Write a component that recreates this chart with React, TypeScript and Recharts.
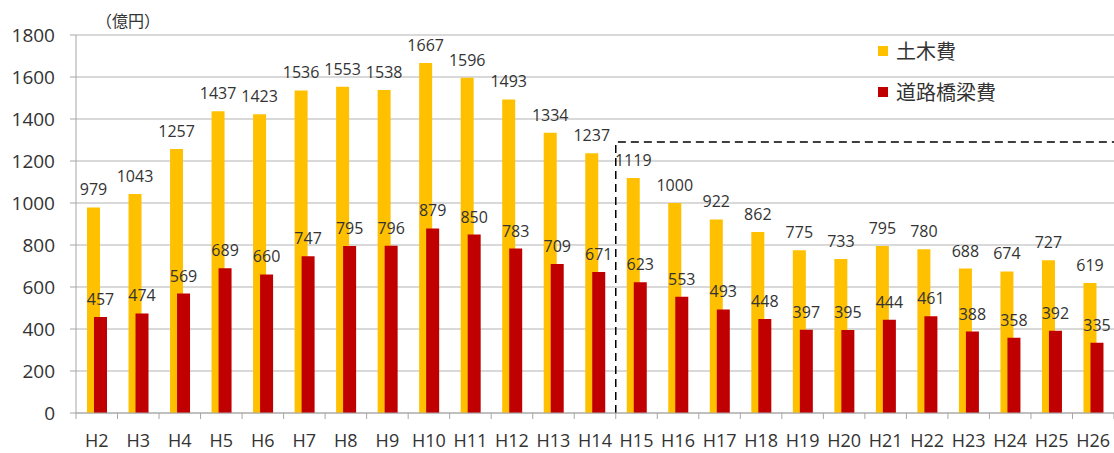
import React from 'react';
import { BarChart, Bar, XAxis, YAxis, CartesianGrid, LabelList, ReferenceArea } from 'recharts';

const categories = ['H2','H3','H4','H5','H6','H7','H8','H9','H10','H11','H12','H13','H14','H15','H16','H17','H18','H19','H20','H21','H22','H23','H24','H25','H26'];
const civilCost = [979,1043,1257,1437,1423,1536,1553,1538,1667,1596,1493,1334,1237,1119,1000,922,862,775,733,795,780,688,674,727,619];
const roadBridgeCost = [457,474,569,689,660,747,795,796,879,850,783,709,671,623,553,493,448,397,395,444,461,388,358,392,335];
const yTicks = [0,200,400,600,800,1000,1200,1400,1600,1800];
const seriesNames = ['土木費', '道路橋梁費'];
const seriesColors = ['#FFC000', '#C00000'];
const boxStart = 'H15';
const boxEnd = 'H26';
const boxTop = 1290;

const data = categories.map((c, i) => ({ name: c, civil: civilCost[i], road: roadBridgeCost[i] }));

const W = 1114;
const H = 453;
const LEFT = 76;
const BAND = (W - LEFT) / categories.length;

const XTick = (props: any) => {
  const { x, y, payload, index } = props;
  const isLast = index === categories.length - 1;
  return (
    <g>
      <line x1={x - BAND / 2} y1={y} x2={x - BAND / 2} y2={y + 6} stroke="#a6a6a6" />
      {isLast && <line x1={x + BAND / 2} y1={y} x2={x + BAND / 2} y2={y + 6} stroke="#a6a6a6" />}
      <text x={x} y={y + 34} textAnchor="middle" fontSize={18} fill="#333" fontFamily="'Open Sans', sans-serif">{payload.value}</text>
    </g>
  );
};

const DashedBox = (props: any) => {
  const { x, y, width, height } = props;
  return (
    <path d={`M${x},${y + height} L${x},${y} L${x + width},${y}`} fill="none" stroke="#000" strokeWidth={1.5} strokeDasharray="8 5" />
  );
};

export default function App() {
  return (
    <div style={{ position: 'relative', width: W, height: H, background: '#fff' }}>
      <style>{`body{margin:0}`}</style>
      <BarChart width={W} height={H} data={data} margin={{ top: 35, right: 0, left: 0, bottom: 0 }} barSize={13} barGap={-6}>
        <CartesianGrid vertical={false} stroke="#b3b3b3" />
        <XAxis dataKey="name" height={40} tickLine={false} tickSize={0} tickMargin={0} stroke="#a6a6a6" tick={<XTick />} interval={0} />
        <YAxis width={76} domain={[0, 1800]} ticks={yTicks} interval={0} tickSize={6} tickMargin={15} stroke="#a6a6a6"
          tick={{ fontSize: 19, fill: '#333', fontFamily: "'Open Sans', sans-serif" }} />
        <Bar dataKey="civil" fill={seriesColors[0]} isAnimationActive={false}>
          <LabelList dataKey="civil" position="top" offset={12} fontSize={16} fill="#333" fontFamily="'Open Sans', sans-serif" />
        </Bar>
        <Bar dataKey="road" fill={seriesColors[1]} isAnimationActive={false}>
          <LabelList dataKey="road" position="top" offset={12} fontSize={16} fill="#333" fontFamily="'Open Sans', sans-serif" />
        </Bar>
        <ReferenceArea x1={boxStart} x2={boxEnd} y1={0} y2={boxTop} shape={<DashedBox />} ifOverflow="visible" />
      </BarChart>
      <div style={{ position: 'absolute', left: 96, top: 8, fontSize: 16, color: '#333', fontFamily: "'Noto Sans CJK JP', sans-serif" }}>（億円）</div>
      <div style={{ position: 'absolute', left: 878, top: 30, fontFamily: "'Noto Sans CJK JP', sans-serif", fontSize: 20, color: '#333' }}>
        {seriesNames.map((n, i) => (
          <div key={n} style={{ display: 'flex', alignItems: 'center', height: 41 }}>
            <span style={{ width: 10, height: 10, background: seriesColors[i], marginRight: 8, display: 'inline-block' }} />
            <span>{n}</span>
          </div>
        ))}
      </div>
    </div>
  );
}
